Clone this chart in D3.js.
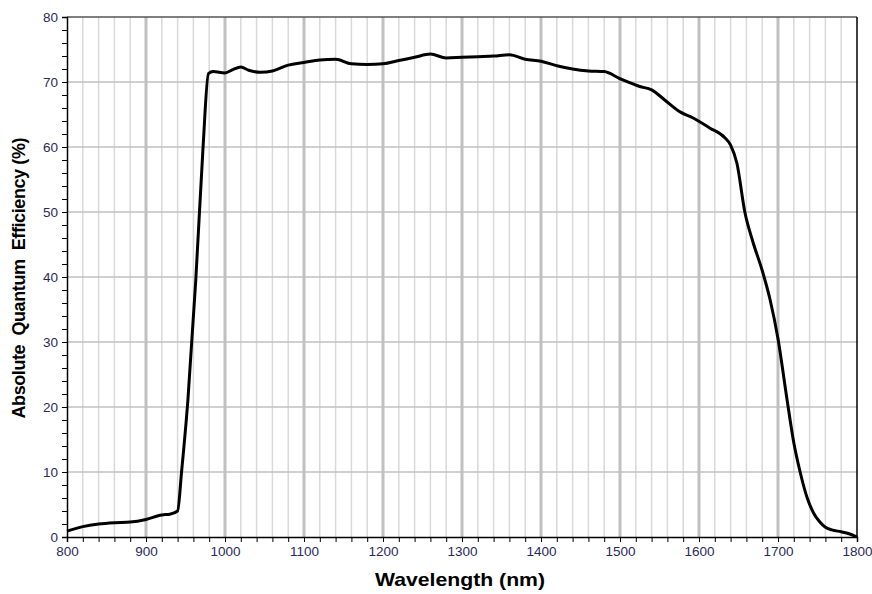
<!DOCTYPE html>
<html>
<head>
<meta charset="utf-8">
<script src="https://cdn.jsdelivr.net/npm/d3@7"></script>
<style>
  body { margin: 0; background: #fff; }
  text { font-family: "Liberation Sans", Arial, sans-serif; }
</style>
</head>
<body>
<div id="wrapper"></div>
<script>
// wavelength (nm) and absolute QE (%)
const wavelengths = [800, 820, 840, 860, 880, 900, 920, 930, 940, 945, 953, 963, 972, 979, 985,
  1000, 1010, 1020, 1030, 1045, 1060, 1080, 1100, 1120, 1140, 1160, 1180, 1200, 1220, 1240,
  1260, 1280, 1300, 1320, 1340, 1360, 1380, 1400, 1420, 1440, 1460, 1480, 1500, 1525, 1540,
  1557, 1576, 1592, 1614, 1633, 1640, 1648, 1658, 1668, 1680, 1690, 1700, 1711, 1720, 1728,
  1737, 1745, 1753, 1760, 1768, 1780, 1790, 1800]
const efficiency = [0.9, 1.6, 2.0, 2.2, 2.3, 2.7, 3.4, 3.5, 4.0, 10, 21, 39.5, 59.5, 71.3, 71.6,
  71.4, 71.9, 72.3, 71.8, 71.5, 71.7, 72.6, 73.0, 73.4, 73.5, 72.8, 72.7, 72.8, 73.3, 73.8,
  74.3, 73.7, 73.8, 73.9, 74.0, 74.2, 73.5, 73.2, 72.5, 72.0, 71.7, 71.6, 70.5, 69.3, 68.8,
  67.2, 65.4, 64.5, 62.9, 61.4, 60.3, 57.5, 50.0, 45.5, 41.0, 36.5, 30.5, 21.5, 14.5, 10.0,
  6.0, 3.7, 2.3, 1.5, 1.1, 0.8, 0.5, 0.0]
const xTicks = [800, 900, 1000, 1100, 1200, 1300, 1400, 1500, 1600, 1700, 1800]
const yTicks = [0, 10, 20, 30, 40, 50, 60, 70, 80]

const data = wavelengths.map((w, i) => ({ w, qe: efficiency[i] }))

const dimensions = {
  width: 872,
  height: 594,
  margin: { top: 17, right: 15, bottom: 57, left: 67 }
}
dimensions.boundedWidth = dimensions.width - dimensions.margin.left - dimensions.margin.right
dimensions.boundedHeight = dimensions.height - dimensions.margin.top - dimensions.margin.bottom

const svg = d3.select("#wrapper").append("svg")
  .attr("width", dimensions.width)
  .attr("height", dimensions.height)

const bounds = svg.append("g")
  .attr("transform", `translate(${dimensions.margin.left},${dimensions.margin.top})`)

const xScale = d3.scaleLinear().domain([800, 1800]).range([0, dimensions.boundedWidth])
const yScale = d3.scaleLinear().domain([0, 80]).range([dimensions.boundedHeight, 0])

// grid: minor verticals every 20 nm, major every 100
const minorX = d3.range(820, 1800, 20).filter(d => d % 100 !== 0)
bounds.append("g").selectAll("line")
  .data(minorX)
  .join("line")
  .attr("x1", d => xScale(d)).attr("x2", d => xScale(d))
  .attr("y1", 0).attr("y2", dimensions.boundedHeight)
  .attr("stroke", "#d9d9d9").attr("stroke-width", 1.5)

bounds.append("g").selectAll("line")
  .data(xTicks.slice(1, -1))
  .join("line")
  .attr("x1", d => xScale(d)).attr("x2", d => xScale(d))
  .attr("y1", 0).attr("y2", dimensions.boundedHeight)
  .attr("stroke", "#c0c0c0").attr("stroke-width", 3)

bounds.append("g").selectAll("line")
  .data(yTicks.slice(1, -1))
  .join("line")
  .attr("x1", 0).attr("x2", dimensions.boundedWidth)
  .attr("y1", d => yScale(d)).attr("y2", d => yScale(d))
  .attr("stroke", "#c0c0c0").attr("stroke-width", 1.5)

// frame top + right
bounds.append("line")
  .attr("x1", 0).attr("x2", dimensions.boundedWidth).attr("y1", 0).attr("y2", 0)
  .attr("stroke", "#555").attr("stroke-width", 1.5)
bounds.append("line")
  .attr("x1", dimensions.boundedWidth).attr("x2", dimensions.boundedWidth)
  .attr("y1", 0).attr("y2", dimensions.boundedHeight)
  .attr("stroke", "#000").attr("stroke-width", 1.5)

// data line
const lineGenerator = d3.line()
  .x(d => xScale(d.w))
  .y(d => yScale(d.qe))
  .curve(d3.curveMonotoneX)

bounds.append("path")
  .datum(data)
  .attr("d", lineGenerator)
  .attr("fill", "none")
  .attr("stroke", "#000")
  .attr("stroke-width", 3)
  .attr("stroke-linejoin", "round")

// axes
const xAxis = bounds.append("g")
  .attr("transform", `translate(0,${dimensions.boundedHeight})`)
  .call(d3.axisBottom(xScale).tickValues(d3.range(800, 1801, 20)).tickSize(5)
    .tickFormat(d => d % 100 === 0 ? d : ""))
const yAxis = bounds.append("g")
  .call(d3.axisLeft(yScale).tickValues(d3.range(0, 81, 2)).tickSize(5)
    .tickFormat(d => d % 10 === 0 ? d : ""))

;[xAxis, yAxis].forEach(ax => {
  ax.select(".domain").attr("stroke", "#000").attr("stroke-width", 1.5)
  ax.selectAll(".tick line").attr("stroke", "#000")
  ax.selectAll(".tick text")
    .style("font-family", "'Liberation Sans', Arial, sans-serif")
    .style("font-size", "13.5px")
    .attr("fill", "#2a2a5a")
})
xAxis.selectAll(".tick text").attr("y", 9)
yAxis.selectAll(".tick text").attr("x", -9)

// titles
svg.append("text")
  .attr("x", dimensions.margin.left + dimensions.boundedWidth / 2 - 2)
  .attr("y", 586)
  .attr("text-anchor", "middle")
  .attr("textLength", 170)
  .attr("lengthAdjust", "spacingAndGlyphs")
  .style("font-size", "18.5px")
  .style("font-weight", "bold")
  .text("Wavelength (nm)")

svg.append("text")
  .attr("transform", `translate(25,${dimensions.margin.top + dimensions.boundedHeight / 2 + 1}) rotate(-90)`)
  .attr("text-anchor", "middle")
  .attr("textLength", 281)
  .attr("lengthAdjust", "spacing")
  .style("font-size", "18px")
  .style("font-weight", "bold")
  .style("white-space", "pre")
  .text("Absolute  Quantum  Efficiency (%)")
</script>
</body>
</html>
